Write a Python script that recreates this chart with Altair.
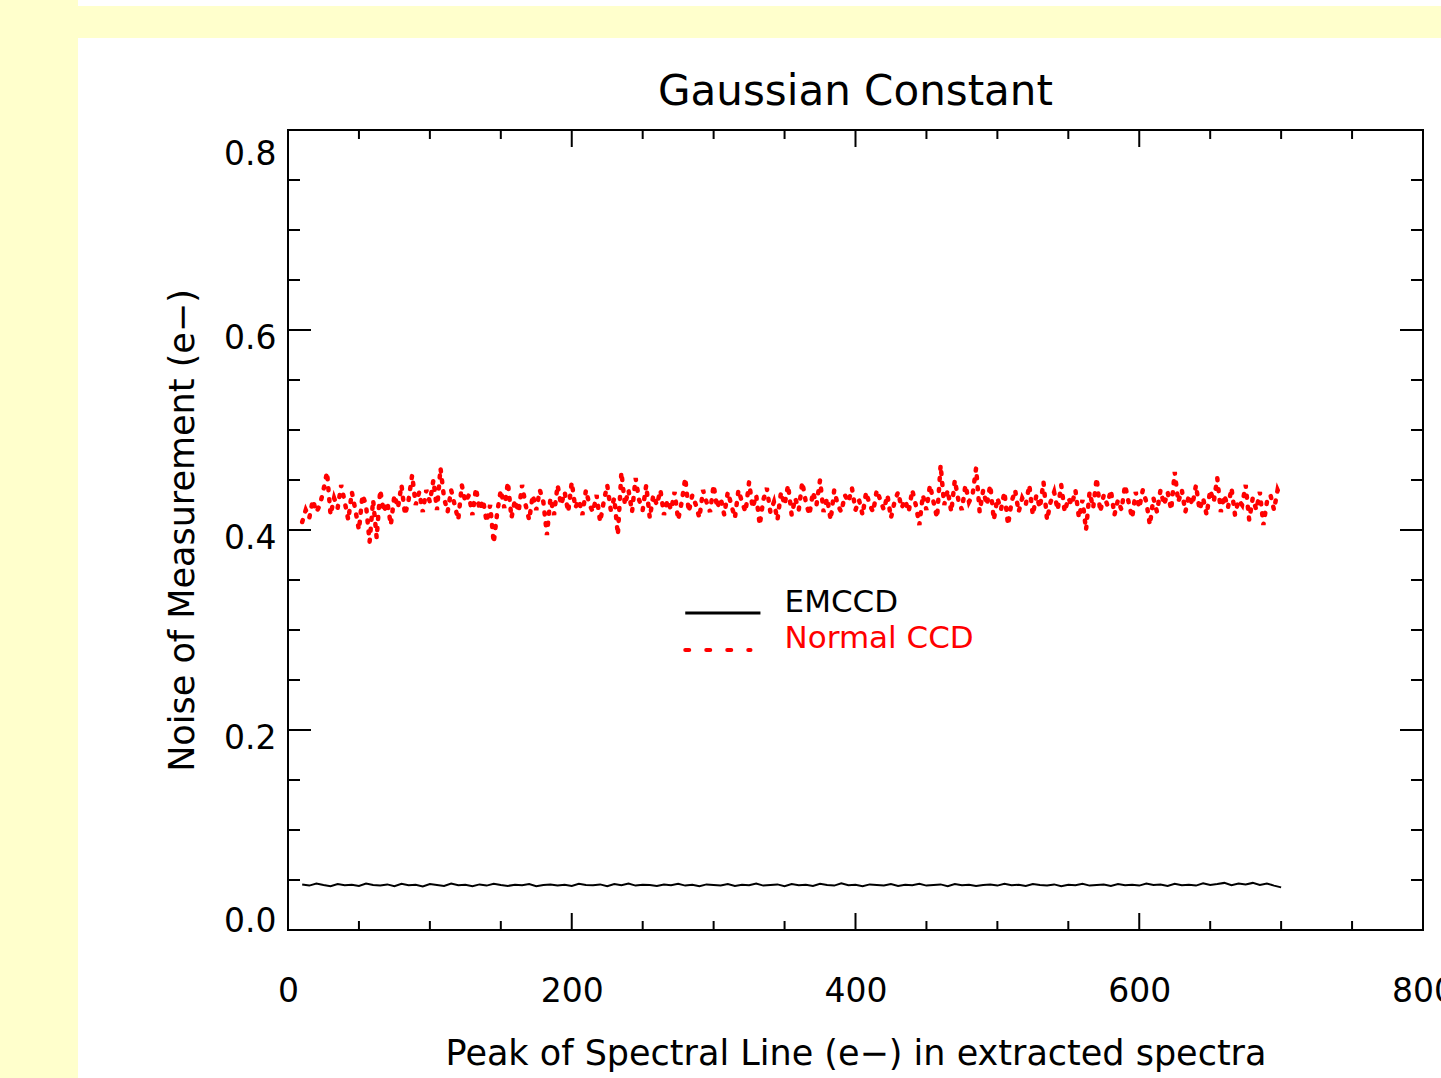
import altair as alt
import pandas as pd

# ---------------- data ----------------
red_start, red_step = 10, 2.5
normal_ccd = [
    408, 420, 412, 430, 418, 425, 440, 458, 415, 432, 422, 445, 428, 410, 438, 420, 400, 435, 425, 388,
    430, 392, 440, 418, 428, 405, 435, 422, 445, 415, 430, 455, 425, 438, 418, 440, 428, 450, 420, 462,
    432, 418, 440, 425, 410, 445, 428, 435, 415, 442, 420, 430, 408, 425, 387, 418, 440, 422, 448, 412,
    430, 418, 445, 425, 410, 435, 420, 440, 428, 395, 432, 415, 445, 425, 438, 418, 448, 422, 430, 415,
    440, 425, 418, 435, 408, 428, 445, 420, 432, 395, 458, 425, 440, 418, 452, 430, 420, 445, 412, 435,
    425, 440, 415, 430, 420, 438, 410, 428, 452, 418, 435, 425, 412, 440, 428, 418, 445, 422, 432, 415,
    438, 425, 412, 440, 428, 418, 448, 422, 435, 405, 430, 442, 418, 428, 410, 438, 425, 445, 415, 432,
    420, 448, 428, 415, 438, 425, 450, 418, 432, 410, 440, 425, 418, 435, 428, 442, 420, 430, 415, 438,
    425, 418, 440, 430, 420, 435, 412, 428, 438, 422, 430, 418, 440, 425, 405, 435, 420, 445, 428, 412,
    465, 425, 440, 418, 450, 430, 420, 445, 428, 435, 462, 418, 440, 425, 445, 410, 432, 420, 438, 405,
    428, 440, 418, 432, 425, 445, 415, 435, 422, 448, 410, 428, 438, 420, 445, 418, 432, 425, 440, 412,
    430, 400, 438, 422, 452, 418, 435, 425, 440, 415, 430, 420, 445, 428, 412, 438, 422, 440, 428, 405,
    432, 418, 440, 425, 438, 420, 458, 428, 440, 418, 435, 425, 445, 420, 432, 415, 440, 428, 452, 418,
    435, 422, 442, 415, 430, 425, 445, 410, 432, 420, 438, 405, 428, 435, 420, 440, 432]

blk_start, blk_step = 10, 5
emccd = [
    456, 444, 465, 450, 438, 459, 447, 453, 441, 465, 450, 444, 456, 438, 462, 447, 453, 435, 459, 450,
    441, 465, 447, 453, 438, 456, 444, 462, 450, 441, 453, 447, 459, 438, 450, 456, 444, 453, 441, 462,
    450, 447, 456, 438, 459, 447, 465, 444, 453, 450, 441, 456, 447, 462, 444, 453, 438, 456, 450, 444,
    459, 441, 453, 447, 465, 444, 450, 456, 438, 459, 447, 453, 441, 462, 450, 444, 468, 447, 453, 438,
    456, 450, 444, 459, 441, 453, 447, 462, 444, 450, 456, 438, 459, 447, 453, 441, 450, 456, 444, 462,
    447, 453, 441, 459, 450, 444, 456, 438, 453, 447, 462, 444, 450, 456, 441, 459, 447, 453, 444, 465,
    450, 456, 441, 462, 447, 453, 444, 468, 450, 459, 471, 447, 465, 456, 471, 450, 465, 444, 426]

x_major = [0, 200, 400, 600, 800]
x_minor = [50, 100, 150, 250, 300, 350, 450, 500, 550, 650, 700, 750]
y_major = [0.0, 0.2, 0.4, 0.6, 0.8]
y_minor = [0.05, 0.1, 0.15, 0.25, 0.3, 0.35, 0.45, 0.5, 0.55, 0.65, 0.7, 0.75]

title_text = "Gaussian Constant"
legend_labels = ["EMCCD", "Normal CCD"]
legend_colors = ["black", "red"]

# ---------------- layout ----------------
W, H = 1135, 800
FONT = "DejaVu Sans"
XT = "Peak of Spectral Line (e\u2212) in extracted spectra"
YT = "Noise of Measurement (e\u2212)"

df_red = pd.DataFrame({"x": [red_start + red_step * i for i in range(len(normal_ccd))],
                       "y": [v / 1000 for v in normal_ccd]})
df_blk = pd.DataFrame({"x": [blk_start + blk_step * i for i in range(len(emccd))],
                       "y": [v / 10000 for v in emccd]})

xscale = alt.Scale(domain=[0, 800], nice=False, zero=False)
yscale = alt.Scale(domain=[0, 0.8], nice=False, zero=False)


def X(**kw):
    return alt.X("x:Q", scale=xscale, title=XT, **kw)


def Y(**kw):
    return alt.Y("y:Q", scale=yscale, title=YT, **kw)


one = pd.DataFrame({"a": [0]})
bg_left = alt.Chart(one).mark_rect(color="#FFFFCC").encode(
    x=alt.value(-288), x2=alt.value(-210), y=alt.value(-130), y2=alt.value(H + 148))
bg_top = alt.Chart(one).mark_rect(color="#FFFFCC").encode(
    x=alt.value(-210), x2=alt.value(W + 18), y=alt.value(-124), y2=alt.value(-92))

title = alt.Chart(pd.DataFrame({"t": [title_text]})).mark_text(
    font=FONT, fontSize=42, color="black", align="center", baseline="alphabetic").encode(
    text="t:N", x=alt.value(W / 2), y=alt.value(-25))

main = alt.Chart(df_blk).mark_line(color="black", strokeWidth=2).encode(
    x=X(axis=alt.Axis(values=x_major, format="d", ticks=False, domain=False, grid=False,
                      labelFontSize=33, labelPadding=45, labelFont=FONT, labelColor="black",
                      titleFont=FONT, titleFontSize=35, titleFontWeight="normal",
                      titlePadding=28, titleColor="black", labelFlush=False)),
    y=Y(axis=alt.Axis(values=y_major, format=".1f", ticks=False, domain=False, grid=False,
                      labelFontSize=33, labelPadding=12, labelFont=FONT, labelColor="black",
                      labelFlush=True, labelOffset=8,
                      titleFont=FONT, titleFontSize=35, titleFontWeight="normal",
                      titlePadding=23, titleColor="black")),
)

red = alt.Chart(df_red).mark_line(color="red", strokeWidth=4.5, strokeDash=[2, 9],
                                  strokeCap="round").encode(x=X(), y=Y())


def tick_layer(vals, axis, p0, p1):
    df = pd.DataFrame({axis: vals})
    if axis == "x":
        return alt.Chart(df).mark_rule(color="black", strokeWidth=2).encode(
            x=X(), y=alt.value(p0), y2=alt.value(p1))
    return alt.Chart(df).mark_rule(color="black", strokeWidth=2).encode(
        y=Y(), x=alt.value(p0), x2=alt.value(p1))


ticks = [
    tick_layer(x_major, "x", H, H - 17),
    tick_layer(x_minor, "x", H, H - 9),
    tick_layer(x_major, "x", 0, 17),
    tick_layer(x_minor, "x", 0, 9),
    tick_layer(y_major, "y", 0, 23),
    tick_layer(y_minor, "y", 0, 12),
    tick_layer(y_major, "y", W, W - 23),
    tick_layer(y_minor, "y", W, W - 12),
]

# legend (in data coordinates)
leg_lines = pd.DataFrame({"x": [280, 280], "x2": [333, 326], "y": [0.317, 0.280],
                          "label": legend_labels})
leg_black = alt.Chart(leg_lines.iloc[[0]]).mark_rule(color="black", strokeWidth=3).encode(
    x=X(), x2="x2:Q", y=Y())
leg_red = alt.Chart(leg_lines.iloc[[1]]).mark_rule(color="red", strokeWidth=4,
                                                    strokeDash=[4, 17], strokeCap="round").encode(
    x=X(), x2="x2:Q", y=Y())
leg_text_df = pd.DataFrame({"x": [350, 350], "y": [0.327, 0.291], "label": legend_labels,
                            "color": legend_colors})
leg_text = alt.Chart(leg_text_df).mark_text(align="left", baseline="middle", font=FONT,
                                            fontSize=31).encode(
    x=X(), y=Y(), text="label:N", color=alt.Color("color:N", scale=None))

chart = alt.layer(bg_left, bg_top, title, main, red, *ticks, leg_black, leg_red, leg_text).properties(
    width=W, height=H,
    padding={"left": 288, "top": 130, "right": 18, "bottom": 148},
    autosize=alt.AutoSizeParams(type="none"),
    background="white",
).configure_view(stroke="black", strokeWidth=2)

chart.save("out.html", embed_options={"renderer": "svg", "actions": False})
